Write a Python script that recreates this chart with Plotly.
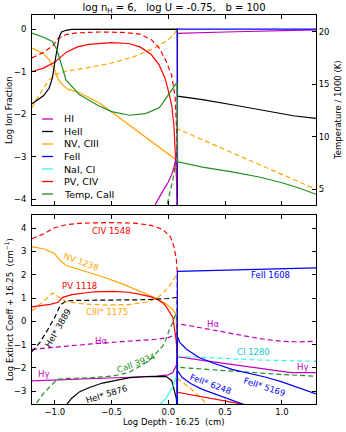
import plotly.graph_objects as go

# ---------------- top panel : log ion fraction (left) / temperature (right) ----------------
hi_x = [-0.14, -0.1, -0.05, 0.0, 0.03, 0.05, 0.07, 0.079, 0.081, 0.5, 1.0, 1.3]
hi_y = [-4.25, -4.05, -3.82, -3.6, -3.42, -3.25, -3.0, -2.8, -0.1, -0.07, -0.04, -0.02]

heii_x = [-1.2, -1.1, -1.05, -1.02, -1.0, -0.98, -0.96, -0.94, -0.9, -0.85, -0.5, 0.0, 0.079, 0.081, 0.3, 0.6, 0.9, 1.1, 1.3]
heii_y = [-1.76, -1.57, -1.4, -1.15, -0.8, -0.45, -0.18, -0.07, -0.03, -0.01, 0.0, 0.0, 0.0, -1.58, -1.66, -1.8, -1.94, -2.04, -2.1]

nv_x = [-1.2, -1.1, -1.05, -1.0, -0.97, -0.93, -0.88, -0.78, -0.6, -0.5, -0.3, -0.1, 0.0, 0.07, 0.079]
nv_y = [-0.45, -0.58, -0.72, -0.97, -1.18, -1.32, -1.42, -1.5, -1.75, -1.95, -2.35, -2.75, -2.95, -3.08, -4.5]

ciii_x = [-1.2, -1.15, -1.1, -1.05, -1.0, -0.95, -0.9, -0.75, -0.5, -0.3, -0.1, 0.0, 0.05, 0.079, 0.081, 1.3]
ciii_y = [-1.85, -1.6, -1.4, -1.2, -1.08, -1.02, -0.99, -0.93, -0.8, -0.65, -0.42, -0.25, -0.12, 0.0, -2.35, -3.77]

pv_x = [-1.2, -1.1, -1.0, -0.9, -0.8, -0.7, -0.5, -0.35, -0.25, -0.15, -0.08, -0.03, 0.0, 0.03, 0.05, 0.065, 0.075, 0.08]
pv_y = [-1.0, -0.92, -0.78, -0.55, -0.42, -0.36, -0.32, -0.34, -0.42, -0.6, -0.85, -1.15, -1.45, -1.8, -2.3, -3.0, -3.7, -4.3]

civ_x = [-1.2, -1.1, -1.02, -0.97, -0.9, -0.8, -0.6, -0.4, -0.25, -0.15, -0.08, -0.02, 0.03, 0.06, 0.075, 0.08]
civ_y = [-0.68, -0.55, -0.4, -0.22, -0.13, -0.09, -0.07, -0.08, -0.12, -0.25, -0.45, -0.75, -1.1, -1.6, -2.5, -4.3]

feii_x = [0.079, 0.08, 1.3]
feii_y = [-4.5, 0.0, 0.0]

caii_x = [-0.02, 0.0, 0.04, 0.07, 0.078]
caii_y = [-4.3, -4.0, -3.55, -3.08, -2.9]

temp_x = [-1.2, -1.1, -1.02, -0.98, -0.95, -0.9, -0.78, -0.63, -0.5, -0.34, -0.2, -0.08, -0.05, 0.035, 0.07, 0.078, 0.082,
          0.3, 0.56, 0.8, 1.0, 1.15, 1.3]
temp_y = [19.9, 19.5, 19.1, 18.3, 17.2, 15.4, 14.0, 13.05, 12.4, 12.05, 12.2, 12.76, 13.2, 14.6, 15.1, 15.1, 7.6,
          7.1, 6.65, 6.15, 5.6, 5.1, 4.5]

# legend entries (top panel)
legend_names = ["HI", "HeII", "NV, CIII", "FeII", "NaI, CI", "PV, CIV", "Temp, CaII"]
legend_colors = ["#c000c0", "black", "orange", "blue", "#40f0f0", "red", "#1f8f1f"]

# ---------------- bottom panel : log extinction coefficient ----------------
civ1548_x = [-1.2, -1.1, -1.0, -0.9, -0.75, -0.5, -0.3, -0.15, -0.05, 0.02, 0.05, 0.07, 0.079, 0.081]
civ1548_y = [3.55, 3.75, 4.02, 4.15, 4.22, 4.24, 4.22, 4.12, 3.95, 3.62, 3.2, 2.7, 2.1, -4.0]

nv1238_x = [-1.2, -1.1, -1.0, -0.95, -0.9, -0.8, -0.6, -0.4, -0.2, -0.1, -0.02, 0.04, 0.07, 0.079]
nv1238_y = [3.2, 3.12, 2.9, 2.6, 2.4, 2.25, 1.95, 1.6, 1.2, 0.98, 0.75, 0.5, 0.3, -4.0]

pv1118_x = [-1.2, -1.1, -1.04, -0.97, -0.93, -0.85, -0.78, -0.65, -0.49, -0.35, -0.25, -0.15, -0.1, -0.05, -0.02,
            0.01, 0.04, 0.07, 0.079, 0.081, 0.3, 0.6, 0.7]
pv1118_y = [0.62, 0.68, 0.73, 0.82, 1.03, 1.15, 1.2, 1.27, 1.29, 1.25, 1.16, 1.05, 0.94, 0.8, 0.64,
            0.42, 0.17, -0.86, -1.5, -3.05, -3.25, -3.5, -3.6]

ciii1175_x = [-1.2, -1.1, -1.02, -0.97, -0.9, -0.75, -0.55, -0.35, -0.2, -0.1, -0.05, 0.0, 0.04, 0.079, 0.081, 0.2, 0.3, 0.34]
ciii1175_y = [0.45, 0.85, 1.22, 1.05, 0.85, 0.75, 0.7, 0.72, 0.82, 0.98, 1.2, 1.45, 1.75, 2.05, -2.45, -2.9, -3.35, -3.6]

hei3889_x = [-1.2, -1.13, -1.07, -1.0, -0.95, -0.9, -0.8, -0.6, -0.4, -0.2, 0.0, 0.078, 0.08]
hei3889_y = [-1.3, -0.9, -0.43, 0.17, 0.7, 0.88, 0.9, 0.9, 0.9, 0.93, 0.98, 1.03, -4.0]

halpha_x = [-1.2, -0.93, -0.7, -0.49, -0.3, -0.11, 0.0, 0.04, 0.079, 0.081, 0.2, 0.4, 0.6, 0.8, 1.0, 1.15, 1.3]
halpha_y = [-1.2, -1.07, -0.98, -0.9, -0.84, -0.77, -0.7, -0.62, -0.5, -0.1, -0.2, -0.38, -0.56, -0.74, -0.86, -0.88, -0.86]

hgamma_x = [-1.2, -0.93, -0.6, -0.34, -0.1, 0.0, 0.04, 0.07, 0.079, 0.081, 0.3, 0.6, 0.9, 1.08, 1.3]
hgamma_y = [-2.56, -2.5, -2.44, -2.4, -2.35, -2.3, -2.2, -1.9, -1.6, -1.52, -1.68, -1.88, -2.07, -2.2, -2.2]

caii3934_x = [-1.16, -1.1, -1.04, -0.98, -0.9, -0.7, -0.49, -0.35, -0.25, -0.17, -0.1, -0.05, -0.02, 0.01, 0.04,
              0.06, 0.078, 0.081, 0.3, 0.7, 1.0, 1.3]
caii3934_y = [-3.5, -3.1, -2.8, -2.5, -2.45, -2.43, -2.35, -2.2, -1.93, -1.7, -1.33, -1.07, -0.77, -0.34, -0.05,
              0.25, 0.35, -1.97, -2.05, -2.2, -2.28, -2.36]

hei5876_x = [-0.9, -0.85, -0.78, -0.7, -0.58, -0.46, -0.34, -0.17, -0.02, 0.03, 0.05, 0.07, 0.075]
hei5876_y = [-3.6, -3.3, -3.02, -2.85, -2.65, -2.52, -2.42, -2.37, -2.36, -2.55, -2.9, -3.3, -3.6]

nai_x = [-0.08, -0.02, 0.03, 0.06, 0.075]
nai_y = [-3.6, -3.3, -2.9, -2.55, -2.27]

ci1280_x = [0.08, 0.4, 0.8, 1.3]
ci1280_y = [-1.5, -1.58, -1.66, -1.72]

feii1608_x = [0.079, 0.08, 1.3]
feii1608_y = [-4.0, 2.15, 2.3]

feii6248_x = [0.079, 0.08, 0.12, 0.2, 0.3, 0.42, 0.6, 0.68]
feii6248_y = [-4.0, -2.1, -2.4, -2.68, -2.92, -3.13, -3.43, -3.6]

feii5169_x = [0.079, 0.08, 0.1, 0.16, 0.27, 0.4, 0.56, 0.7, 0.86, 1.0, 1.15, 1.3]
feii5169_y = [-4.0, -0.65, -0.9, -1.2, -1.55, -1.8, -2.06, -2.22, -2.4, -2.6, -2.85, -3.12]

xticks = [-1.0, -0.5, 0.0, 0.5, 1.0]

MAG = "#c000c0"
ORA = "orange"
GRN = "#1f8f1f"
CYA = "#40f0f0"
DASH = "5px,3px"


def line(x, y, color, dash="solid", xa="x", ya="y3", width=1.2):
    return go.Scatter(x=x, y=y, mode="lines", line=dict(color=color, width=width, dash=dash),
                      xaxis=xa, yaxis=ya, showlegend=False, hoverinfo="skip")


fig = go.Figure()

# top panel
fig.add_trace(line(temp_x, temp_y, GRN, xa="x2", ya="y2"))
fig.add_trace(line(ciii_x, ciii_y, ORA, DASH, xa="x2", ya="y"))
fig.add_trace(line(nv_x, nv_y, ORA, xa="x2", ya="y"))
fig.add_trace(line(civ_x, civ_y, "red", DASH, xa="x2", ya="y"))
fig.add_trace(line(pv_x, pv_y, "red", xa="x2", ya="y"))
fig.add_trace(line(caii_x, caii_y, GRN, DASH, xa="x2", ya="y"))
fig.add_trace(line(heii_x, heii_y, "black", xa="x2", ya="y"))
fig.add_trace(line(hi_x, hi_y, MAG, xa="x2", ya="y"))
fig.add_trace(line(feii_x, feii_y, "blue", xa="x2", ya="y"))

# bottom panel
fig.add_trace(line(civ1548_x, civ1548_y, "red", DASH))
fig.add_trace(line(nv1238_x, nv1238_y, ORA))
fig.add_trace(line(ciii1175_x, ciii1175_y, ORA, DASH))
fig.add_trace(line(pv1118_x, pv1118_y, "red"))
fig.add_trace(line(halpha_x, halpha_y, MAG, DASH))
fig.add_trace(line(hgamma_x, hgamma_y, MAG))
fig.add_trace(line(caii3934_x, caii3934_y, GRN, DASH))
fig.add_trace(line(hei5876_x, hei5876_y, "black"))
fig.add_trace(line(hei3889_x, hei3889_y, "black", DASH))
fig.add_trace(line(nai_x, nai_y, CYA))
fig.add_trace(line(ci1280_x, ci1280_y, CYA, DASH))
fig.add_trace(line(feii6248_x, feii6248_y, "blue"))
fig.add_trace(line(feii5169_x, feii5169_y, "blue"))
fig.add_trace(line(feii1608_x, feii1608_y, "blue"))

axis = dict(showline=True, linecolor="black", linewidth=1, ticks="inside", ticklen=4,
            tickcolor="black", showgrid=False, zeroline=False, tickfont=dict(size=8.5))

fig.update_layout(
    width=346, height=432,
    margin=dict(l=32, r=30, t=15, b=28),
    paper_bgcolor="white", plot_bgcolor="white",
    font=dict(family="DejaVu Sans", size=9, color="black"),
    showlegend=False,
    title=dict(text="log n<sub>H</sub> = 6,   log U = -0.75,   b = 100", x=0.503, y=0.982,
               xanchor="center", yanchor="middle", font=dict(size=10)),
    xaxis=dict(axis, domain=[0, 1], anchor="y3", range=[-1.2, 1.3], tickvals=xticks, tickformat=".1f",
               mirror="ticks"),
    xaxis2=dict(axis, domain=[0, 1], anchor="y", range=[-1.2, 1.3], tickvals=xticks, showticklabels=False,
                mirror="ticks"),
    yaxis=dict(axis, domain=[0.5116, 1], anchor="x2", range=[-4.14, 0.33], tickvals=[-4, -3, -2, -1, 0],
               mirror=True, ticklabelstandoff=3),
    yaxis2=dict(axis, overlaying="y", side="right", anchor="x2", range=[3.48, 21.62], tickvals=[5, 10, 15, 20]),
    yaxis3=dict(axis, domain=[0, 0.486], anchor="x", range=[-3.55, 4.57], tickvals=list(range(-3, 5)),
                mirror="ticks", ticklabelstandoff=3),
)


def px(xp):
    return (xp - 32) / 284.0


def py(yp):
    return (404 - yp) / 389.0


ann = []
# axis titles
ann.append(dict(text="Log Ion Fraction", x=px(9), y=py(110), textangle=-90))
ann.append(dict(text="Temperature / 1000 (K)", x=px(338), y=py(110), textangle=-90))
ann.append(dict(text="Log Extinct Coeff + 16.25  (cm<sup>−1</sup>)", x=px(9), y=py(310), textangle=-90))
ann.append(dict(text="Log Depth - 16.25  (cm)", x=px(174), y=py(422)))
for a in ann:
    a.update(xref="paper", yref="paper", showarrow=False, xanchor="center", yanchor="middle",
             font=dict(size=8.5))

# legend drawn by hand (tight spacing like the original)
shapes = []
for i, (name, col) in enumerate(zip(legend_names, legend_colors)):
    yy = py(119 + 12.5 * i)
    shapes.append(dict(type="line", xref="paper", yref="paper", x0=px(42), x1=px(53), y0=yy, y1=yy,
                       line=dict(color=col, width=1.3)))
    ann.append(dict(text=name, xref="paper", yref="paper", x=px(62), y=yy, xanchor="left", yanchor="middle",
                    showarrow=False, font=dict(size=9.5)))

# line labels in the bottom panel
labels = [
    ("CIV 1548", -0.5, 3.86, "red", 0),
    ("NV 1238", -0.76, 2.57, ORA, 20),
    ("PV 1118", -0.78, 1.5, "red", 0),
    ("CIII* 1175", -0.54, 0.39, ORA, 0),
    ("HeI* 3889", -0.97, -0.3, "black", -60),
    ("Hα", -0.59, -0.86, MAG, 0),
    ("Hα", 0.39, -0.13, MAG, 0),
    ("CaII 3934", -0.28, -1.8, GRN, -21),
    ("Hγ", -1.1, -2.27, MAG, 0),
    ("Hγ", 1.18, -1.97, MAG, 0),
    ("HeI* 5876", -0.54, -3.1, "black", -17),
    ("FeII 1608", 0.9, 1.97, "blue", 0),
    ("CI 1280", 0.75, -1.33, "#10c8c8", 0),
    ("FeII* 6248", 0.37, -2.7, "blue", 20),
    ("FeII* 5169", 0.85, -2.8, "blue", 18),
]
for t, lx, ly, col, ang in labels:
    ann.append(dict(text=t, x=lx, y=ly, xref="x", yref="y3", showarrow=False, textangle=ang,
                    xanchor="center", yanchor="middle", font=dict(size=8.5, color=col)))

fig.update_layout(annotations=ann, shapes=shapes)

# the page's default body margin would shift the 346x432 figure inside the window
fig.write_html("out.html", config={"displayModeBar": False},
               post_script="document.body.style.margin='0';")
